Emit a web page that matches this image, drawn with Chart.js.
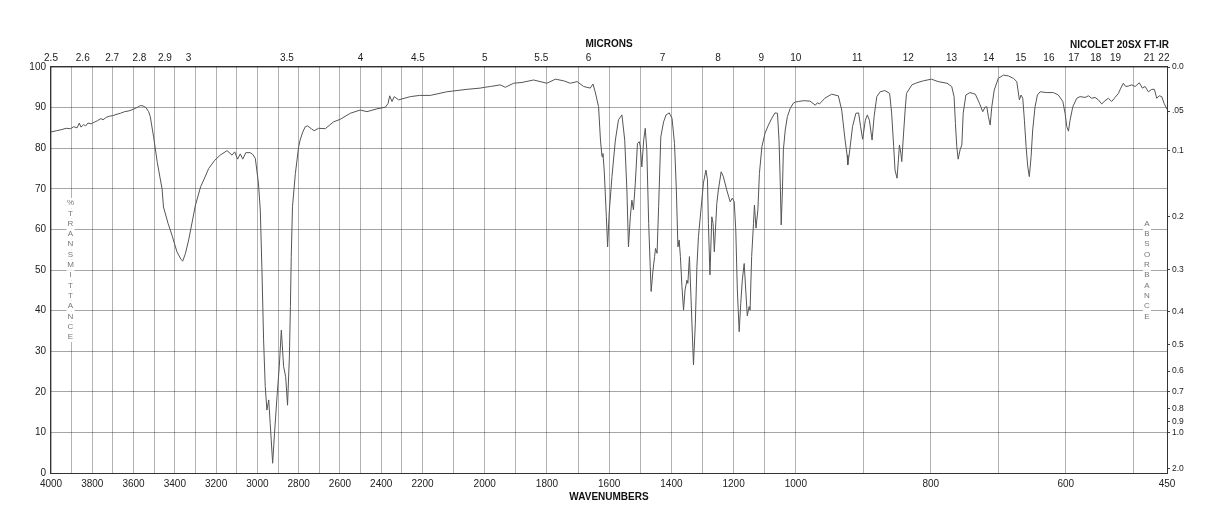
<!DOCTYPE html>
<html>
<head>
<meta charset="utf-8">
<title>IR spectrum</title>
<script src="https://cdn.jsdelivr.net/npm/chart.js@4.4.1/dist/chart.umd.min.js"></script>
<style>
  html, body { margin: 0; padding: 0; background: #fff; }
  canvas { display: block; }
</style>
</head>
<body>
<canvas id="chartIR" width="1218" height="528"></canvas>
<script>
// spectrum (cm-1, %T)
var wavenumbers = [
  4000, 3974, 3947, 3926, 3905, 3890, 3874, 3863, 3855, 3842, 3832, 3821, 3806, 3790, 3774, 3758,
  3748, 3732, 3716, 3701, 3685, 3664, 3643, 3622, 3601, 3580, 3567, 3554, 3540, 3527, 3519, 3503,
  3485, 3462, 3455, 3433, 3414, 3390, 3370, 3362, 3349, 3333, 3300, 3275, 3260, 3236, 3207, 3180,
  3147, 3123, 3110, 3096, 3083, 3071, 3056, 3035, 3023, 3010, 2995, 2986, 2978, 2970, 2962, 2954,
  2945, 2938, 2926, 2917, 2905, 2894, 2884, 2873, 2863, 2854, 2845, 2840, 2836, 2830, 2816, 2800,
  2793, 2780, 2768, 2757, 2739, 2725, 2704, 2671, 2631, 2599, 2550, 2502, 2469, 2421, 2380, 2367,
  2359, 2348, 2337, 2316, 2259, 2214, 2175, 2122, 2057, 2015, 2000,
  1982, 1950, 1934, 1907, 1880, 1843, 1800, 1773, 1746, 1725, 1703, 1682, 1661, 1652, 1645, 1634,
  1628, 1623, 1620, 1616, 1609, 1605, 1600, 1591, 1580, 1570, 1559, 1550, 1543, 1538, 1532, 1527,
  1522, 1516, 1509, 1503, 1500, 1495, 1489, 1484, 1479, 1473, 1468, 1465, 1459, 1454, 1451, 1446,
  1441, 1434, 1425, 1417, 1407, 1398, 1390, 1384, 1379, 1375, 1371, 1366, 1361, 1356, 1350, 1347,
  1342, 1337, 1332, 1329, 1323, 1318, 1313, 1305, 1297, 1289, 1284, 1281, 1276, 1270, 1266, 1262,
  1254, 1249, 1240, 1233, 1222, 1211, 1204, 1198, 1193, 1188, 1182, 1177, 1172, 1166, 1161, 1156,
  1150, 1147, 1142, 1136, 1133, 1128, 1122, 1117, 1109, 1099, 1088, 1077, 1067, 1059, 1054, 1050,
  1047, 1043, 1040, 1034, 1027, 1018, 1008, 1000,
  996, 989, 979, 971, 968, 965, 957, 947, 937, 932, 927, 924, 923, 920, 916, 911,
  907, 904, 901, 897, 894, 891, 887, 884, 880, 875, 868, 861, 858, 855, 853, 850,
  848, 846.5, 844.4, 843, 841, 838, 836, 828, 821, 811, 799, 789, 776, 769, 765.5, 763.5,
  761.5, 759.5, 756.6, 754, 752, 748, 742, 734, 728, 723, 719.6, 717, 714.7, 712, 709.6, 706,
  700, 692.4, 685, 677.6, 672.6, 668.7, 666.2, 663.7, 661.3, 658.8, 656.3, 654, 651.4, 649, 645.5, 642,
  638, 628, 618.4, 611, 604.4, 601, 598.5, 596, 593.6, 589.6, 583.7, 578.8, 571.4, 566.5, 561.5, 556.6,
  551.7, 546.7, 541.8, 536.9, 532, 527, 522, 518.5, 514.7, 511.2, 507.3, 502.2, 497.3, 491, 486.5, 482.5,
  477.6, 472.6, 468.7, 465.2, 461.3, 457.8, 454.4, 451.5, 450
];
var transmittance = [
  84.0, 84.3, 84.6, 84.9, 84.8, 85.3, 85.0, 86.2, 85.2, 85.8, 85.5, 86.2, 86.0, 86.4, 86.8, 87.3,
  87.0, 87.6, 87.9, 88.0, 88.3, 88.6, 89.0, 89.2, 89.6, 90.1, 90.5, 90.4, 90.0, 89.0, 87.8, 82.8,
  76.5, 70.0, 65.5, 61.5, 58.6, 54.5, 52.6, 52.2, 54.0, 57.4, 66.0, 70.5, 72.2, 75.0, 77.0, 78.3,
  79.4, 78.3, 79.1, 77.3, 78.6, 77.3, 78.9, 78.9, 78.5, 77.5, 71.4, 64.8, 50.0, 32.8, 21.3, 15.5,
  18.0, 12.2, 2.4, 9.8, 18.8, 26.2, 35.2, 26.2, 23.7, 16.7, 28.6, 41.0, 53.3, 65.6, 73.8, 80.4,
  82.0, 84.0, 85.3, 85.5, 84.8, 84.3, 84.9, 84.8, 86.5, 87.1, 88.6, 89.4, 89.0, 89.7, 90.1, 91.0,
  92.9, 91.5, 92.7, 91.9, 92.7, 93.0, 93.0, 93.9, 94.5, 94.8, 95.0,
  95.2, 95.6, 95.0, 96.0, 96.2, 96.8, 96.0, 97.0, 96.6, 96.0, 96.4, 95.2, 94.8, 95.8, 93.9, 90.2,
  82.0, 77.9, 78.7, 74.6, 63.1, 55.7, 64.0, 73.0, 82.0, 87.0, 88.2, 82.0, 69.7, 55.7, 63.1, 67.2,
  64.8, 71.4, 81.2, 81.6, 80.4, 75.4, 82.0, 84.9, 79.6, 61.5, 50.8, 44.7, 50.0, 53.3, 55.3, 54.1,
  65.6, 82.8, 86.5, 88.2, 88.7, 87.4, 81.2, 69.7, 55.7, 57.4, 53.3, 45.9, 40.1, 45.1, 47.5, 46.7,
  53.3, 43.4, 32.8, 26.6, 36.9, 50.8, 58.2, 64.8, 71.4, 74.6, 72.2, 61.5, 48.8, 63.1, 61.5, 54.5,
  66.4, 69.7, 74.2, 73.0, 69.7, 66.8, 67.7, 66.8, 59.9, 45.1, 34.8, 41.8, 47.5, 51.6, 45.1, 38.7,
  41.0, 40.1, 53.3, 61.5, 66.0, 60.3, 64.8, 73.8, 80.4, 83.7, 85.7, 87.4, 88.7, 88.6, 82.0, 71.4,
  61.1, 69.7, 79.6, 84.5, 87.8, 89.8, 91.1, 91.4,
  91.5, 91.7, 91.6, 90.6, 91.2, 90.9, 92.3, 93.3, 92.9, 89.4, 82.0, 78.3, 75.9, 79.6, 85.3, 88.6,
  88.7, 85.3, 82.2, 86.9, 88.2, 86.9, 82.0, 87.8, 92.7, 93.9, 94.2, 93.5, 88.6, 80.4, 74.6, 72.6,
  77.1, 80.8, 78.7, 76.7, 82.0, 89.4, 93.5, 95.6, 96.1, 96.6, 97.0, 96.4, 96.0, 95.2, 92.7, 86.1,
  80.4, 77.3, 79.6, 80.8, 88.6, 93.1, 93.7, 93.3, 91.1, 89.0, 90.1, 90.2, 87.8, 85.7, 90.2, 94.3,
  97.2, 98.0, 97.8, 97.2, 96.4, 91.9, 93.1, 92.3, 86.9, 80.4, 75.4, 73.0, 77.9, 84.5, 90.2, 93.1,
  93.9, 93.7, 93.7, 93.1, 91.5, 88.6, 85.3, 84.2, 86.9, 90.2, 92.3, 92.7, 92.5, 92.9, 92.3, 92.5,
  91.9, 90.9, 91.7, 92.3, 91.5, 92.5, 93.5, 94.8, 96.0, 95.2, 95.3, 95.6, 95.2, 96.1, 94.8, 95.2,
  93.9, 94.5, 94.5, 92.3, 92.9, 92.7, 91.1, 90.1, 89.6
];

// axis ticks
var wnLabels = [4000, 3800, 3600, 3400, 3200, 3000, 2800, 2600, 2400, 2200, 2000,
                1800, 1600, 1400, 1200, 1000, 800, 600, 450];
var micronTicks = [2.5, 2.6, 2.7, 2.8, 2.9, 3, 3.5, 4, 4.5, 5, 5.5, 6, 7, 8, 9, 10,
                   11, 12, 13, 14, 15, 16, 17, 18, 19, 21, 22];
var absTicks = [0, 0.05, 0.1, 0.2, 0.3, 0.4, 0.5, 0.6, 0.7, 0.8, 0.9, 1.0, 2.0];
var absLabels = ["0.0", ".05", "0.1", "0.2", "0.3", "0.4", "0.5", "0.6", "0.7", "0.8", "0.9", "1.0", "2.0"];

// grid every 100 cm-1
var wnGrid = [];
for (var g = 4000; g >= 500; g -= 100) wnGrid.push(g);
wnGrid.push(450);

var FONT = "'Liberation Sans', Arial, Helvetica, sans-serif";

// the instrument plots 4000-2200, 2200-1000 and 1000-450 at different scales
var breaks = [4000, 2200, 1000, 450];
var breakFrac = [0, 0.3329, 0.6674, 1];

class PiecewiseScale extends Chart.LinearScale {
  static id = "piecewise";
  static defaults = Chart.LinearScale.defaults;

  getPixelForValue(value) {
    var f = 1;
    for (var i = 0; i < 3; i++) {
      if (value >= breaks[i + 1]) {
        f = breakFrac[i] + (breaks[i] - value) / (breaks[i] - breaks[i + 1]) * (breakFrac[i + 1] - breakFrac[i]);
        break;
      }
    }
    return this.left + f * this.width;
  }

  getValueForPixel(pixel) {
    var f = (pixel - this.left) / this.width;
    for (var i = 0; i < 3; i++) {
      if (f <= breakFrac[i + 1]) {
        return breaks[i] - (f - breakFrac[i]) / (breakFrac[i + 1] - breakFrac[i]) * (breaks[i] - breaks[i + 1]);
      }
    }
    return breaks[3];
  }
}
Chart.register(PiecewiseScale);

function letterColumn(ctx, text, x, cy) {
  var step = 10.3;
  var y0 = cy - (text.length - 1) * step / 2;
  ctx.font = "8px " + FONT;
  ctx.textAlign = "center";
  ctx.textBaseline = "middle";
  for (var i = 0; i < text.length; i++) {
    var y = y0 + i * step;
    ctx.fillStyle = "#fff";
    ctx.fillRect(x - 4, y - 5, 8, 10);
    ctx.fillStyle = "#777";
    ctx.fillText(text[i], x, y);
  }
}

var decorations = {
  id: "decorations",
  afterDraw(chart) {
    var ctx = chart.ctx;
    var a = chart.chartArea;
    ctx.save();
    letterColumn(ctx, "%TRANSMITTANCE", 70.5, (a.top + a.bottom) / 2);
    letterColumn(ctx, "ABSORBANCE", 1147, (a.top + a.bottom) / 2);

    ctx.strokeStyle = "#333";
    ctx.lineWidth = 1;
    ctx.strokeRect(Math.round(a.left) - 0.5, Math.round(a.top) - 0.5,
                   Math.round(a.right - a.left) + 1, Math.round(a.bottom - a.top) + 1);

    ctx.fillStyle = "#111";
    ctx.font = "bold 10px " + FONT;
    ctx.textAlign = "right";
    ctx.textBaseline = "middle";
    ctx.fillText("NICOLET 20SX FT-IR", 1169, 45);
    ctx.restore();
  }
};

var points = wavenumbers.map(function (w, i) { return { x: w, y: transmittance[i] }; });

var ctx = document.getElementById("chartIR").getContext("2d");
Chart.defaults.font.family = FONT;
Chart.defaults.color = "#222";

window.chartIR = new Chart(ctx, {
  type: "line",
  data: {
    datasets: [
      {
        data: points,
        xAxisID: "x",
        yAxisID: "y",
        borderColor: "#555",
        borderWidth: 1,
        pointRadius: 0,
        tension: 0,
        fill: false,
      },
    ],
  },
  options: {
    responsive: false,
    animation: false,
    events: [],
    layout: { padding: 0 },
    plugins: {
      legend: { display: false },
      tooltip: { enabled: false },
    },
    scales: {
      x: {
        type: "piecewise",
        position: "bottom",
        min: 450,
        max: 4000,
        afterBuildTicks: function (s) { s.ticks = wnGrid.map(function (v) { return { value: v }; }); },
        afterFit: function (s) { s.height = 55; },
        grid: { color: "rgba(0,0,0,0.3)", lineWidth: 1, drawTicks: false },
        border: { display: false },
        ticks: {
          autoSkip: false,
          maxRotation: 0,
          padding: 5,
          font: { size: 10 },
          callback: function (v) { return wnLabels.indexOf(v) >= 0 ? String(v) : ""; },
        },
        title: {
          display: true,
          text: "WAVENUMBERS",
          color: "#111",
          font: { size: 10, weight: "bold" },
          padding: { top: 0, bottom: 25 },
        },
      },
      xTop: {
        type: "piecewise",
        position: "top",
        min: 450,
        max: 4000,
        afterBuildTicks: function (s) { s.ticks = micronTicks.map(function (m) { return { value: 10000 / m }; }); },
        afterFit: function (s) { s.height = 67; },
        grid: { display: false, drawTicks: false },
        border: { display: false },
        ticks: {
          autoSkip: false,
          maxRotation: 0,
          padding: 3,
          font: { size: 10 },
          callback: function (v, i) { return String(micronTicks[i]); },
        },
        title: {
          display: true,
          text: "MICRONS",
          color: "#111",
          font: { size: 10, weight: "bold" },
          padding: { top: 38, bottom: 0 },
        },
      },
      y: {
        position: "left",
        min: 0,
        max: 100,
        afterFit: function (s) { s.width = 51; },
        grid: { color: "rgba(0,0,0,0.35)", lineWidth: 1, drawTicks: false },
        border: { display: false },
        ticks: { stepSize: 10, padding: 5, font: { size: 10 } },
      },
      yAbs: {
        position: "right",
        min: 0,
        max: 100,
        afterBuildTicks: function (s) { s.ticks = absTicks.map(function (a) { return { value: 100 * Math.pow(10, -a) }; }); },
        afterFit: function (s) { s.width = 51; },
        grid: { drawOnChartArea: false, drawTicks: true, tickLength: 3, color: "#444" },
        border: { display: false },
        ticks: {
          autoSkip: false,
          padding: 2,
          font: { size: 8.5 },
          callback: function (v, i) { return absLabels[i]; },
        },
      },
    },
  },
  plugins: [decorations],
});
</script>
</body>
</html>
